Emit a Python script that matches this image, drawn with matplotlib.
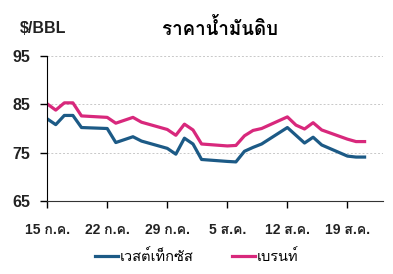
#!/usr/bin/env python3

# Crude oil prices (WTI vs Brent), Jul-Aug, in $/BBL

import matplotlib
matplotlib.use("Agg")
import matplotlib.pyplot as plt
from matplotlib import font_manager
from matplotlib.ft2font import FT2Font
import pandas as pd

dates = pd.to_datetime([
    "2019-07-15", "2019-07-16", "2019-07-17", "2019-07-18", "2019-07-19",
    "2019-07-22", "2019-07-23", "2019-07-24", "2019-07-25", "2019-07-26",
    "2019-07-29", "2019-07-30", "2019-07-31", "2019-08-01", "2019-08-02",
    "2019-08-05", "2019-08-06", "2019-08-07", "2019-08-08", "2019-08-09",
    "2019-08-12", "2019-08-13", "2019-08-14", "2019-08-15", "2019-08-16",
    "2019-08-19", "2019-08-20", "2019-08-21",
])
wti = [82.0, 80.8, 82.7, 82.7, 80.2,
       80.0, 77.1, 77.7, 78.3, 77.4,
       75.9, 74.7, 78.0, 76.8, 73.6,
       73.2, 73.1, 75.3, 76.1, 76.8,
       80.2, 78.6, 77.0, 78.2, 76.6,
       74.3, 74.1, 74.1]
brent = [85.1, 83.8, 85.3, 85.3, 82.6,
         82.3, 81.1, 81.7, 82.3, 81.3,
         79.8, 78.6, 80.9, 79.7, 76.8,
         76.4, 76.5, 78.5, 79.6, 80.0,
         82.4, 80.7, 79.9, 81.2, 79.7,
         77.8, 77.3, 77.3]

tick_dates = pd.to_datetime(["2019-07-15", "2019-07-22", "2019-07-29",
                             "2019-08-05", "2019-08-12", "2019-08-19"])
tick_labels = ["15 ก.ค.", "22 ก.ค.", "29 ก.ค.", "5 ส.ค.", "12 ส.ค.", "19 ส.ค."]
y_ticks = [65, 75, 85, 95]

title = "ราคาน้ำมันดิบ"
unit = "$/BBL"
names = ["เวสต์เท็กซัส", "เบรนท์"]
colors = ["#1c5a86", "#d8287c"]


# Find an installed family that has Thai glyphs
def thai_family():
    for f in font_manager.fontManager.ttflist:
        try:
            if 0x0E23 in FT2Font(f.fname).get_charmap():
                return f.name
        except Exception:
            pass
    return "DejaVu Sans"


thai = thai_family()
plt.rcParams['font.family'] = [thai, 'DejaVu Sans']
mixed = ['Liberation Sans', thai]  # latin digits from Liberation, Thai falls through

fig = plt.figure(figsize=(3.93, 2.74), dpi=100)
ax = fig.add_axes([0.120, 0.266, 0.855, 0.530])

ax.plot(dates, wti, color=colors[0], lw=2.3, label=names[0])
ax.plot(dates, brent, color=colors[1], lw=2.3, label=names[1])

ax.set_ylim(65, 95)
ax.set_yticks(y_ticks)
ax.set_xlim(pd.Timestamp("2019-07-15"), pd.Timestamp("2019-08-23 04:00"))
ax.set_xticks(tick_dates)
ax.set_xticklabels(tick_labels)

ax.grid(axis='y', color='#c8c8c8', ls=(0, (2, 2)), lw=0.7)
ax.spines['top'].set_visible(False)
ax.spines['right'].set_visible(False)
ax.spines['left'].set_color('black')
ax.spines['bottom'].set_color('#333333')
ax.tick_params(axis='x', direction='out', length=5, width=1, labelsize=10, pad=11)
ax.tick_params(axis='y', direction='out', length=5, width=1, labelsize=11.5, pad=7)
for lab in ax.get_xticklabels() + ax.get_yticklabels():
    lab.set_fontweight('bold')
    lab.set_family(mixed)
    lab.set_color('#222222')

fig.text(0.05, 0.895, unit, fontsize=11.5, fontweight='bold', va='center',
         family='Liberation Sans', color='#222222')
fig.text(0.56, 0.895, title, fontsize=13.5, fontweight='bold', va='center', ha='center')

fig.legend(loc='center', bbox_to_anchor=(0.5, 0.065), ncol=2, frameon=False,
           prop={'size': 10.5}, handlelength=1.6, handletextpad=0.1,
           columnspacing=2.6)

fig.savefig("out.png", dpi=100)
